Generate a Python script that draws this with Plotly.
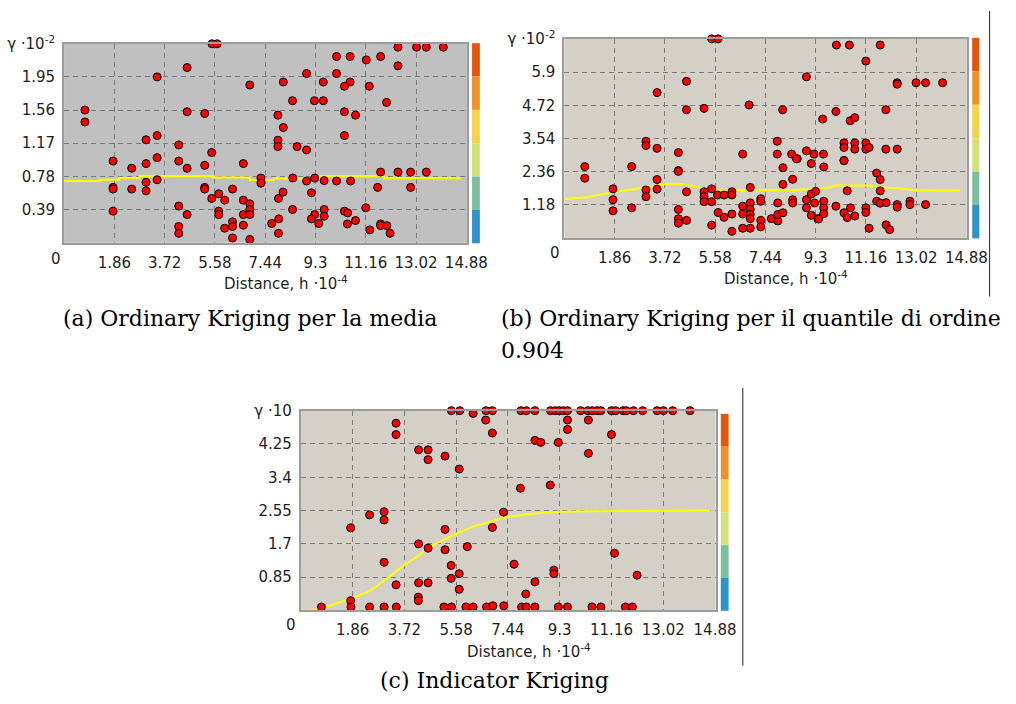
import plotly.graph_objects as go

# ---------------- data ----------------
tick_vals_x = [1.86, 3.72, 5.58, 7.44, 9.3, 11.16, 13.02, 14.88]
tick_text_x = ["1.86", "3.72", "5.58", "7.44", "9.3", "11.16", "13.02", "14.88"]

a_ticks = [0.39, 0.78, 1.17, 1.56, 1.95, 2.34]
a_ticktext = ["0.39", "0.78", "1.17", "1.56", "1.95", "γ ·10<sup>-2</sup>"]
b_ticks = [1.18, 2.36, 3.54, 4.72, 5.9, 7.08]
b_ticktext = ["1.18", "2.36", "3.54", "4.72", "5.9", "γ ·10<sup>-2</sup>"]
c_ticks = [0.85, 1.7, 2.55, 3.4, 4.25, 5.1]
c_ticktext = ["0.85", "1.7", "2.55", "3.4", "4.25", "γ ·10"]

# (a) Ordinary Kriging per la media
a_dist = [5.47, 5.66, 4.55, 3.44, 0.77, 0.77, 4.55, 5.20, 3.44, 3.03, 4.24, 1.81, 3.44, 4.24, 5.46,
          2.50, 3.03, 4.55, 5.20, 6.63, 3.44, 3.03, 3.03, 1.81, 1.81, 2.50, 5.20, 5.20,
          5.72, 5.46, 5.94, 6.23, 6.63, 1.81, 4.24, 4.55, 5.72, 5.72, 6.63,
          4.24, 4.24, 5.94, 6.23, 6.23, 6.63, 6.23,
          7.28, 7.28, 8.46, 8.97, 9.27, 9.62, 10.08, 10.60, 11.60,
          6.87, 6.87, 6.87, 6.87, 8.10, 7.93, 9.15, 8.45, 7.94, 7.68, 7.93,
          9.27, 9.15, 9.42, 9.62, 9.62, 10.37, 10.49, 10.78, 10.48,
          11.16, 11.31, 11.71, 11.71, 11.94, 12.06,
          12.35, 13.04, 13.40, 14.03, 10.08, 10.58, 11.18, 11.71, 12.35, 8.97, 10.08,
          6.87, 8.11, 9.59, 10.58, 10.37, 11.29, 8.45, 9.26, 9.59, 11.93, 10.37, 10.78, 7.91,
          8.11, 7.91, 7.91, 8.62, 8.97, 10.37, 11.71, 12.35, 12.82, 13.40, 12.82]
a_gamma = [2.34, 2.34, 2.06, 1.95, 1.56, 1.42, 1.54, 1.52, 1.26, 1.21, 1.15, 0.96, 1.00, 0.96, 1.06,
           0.875, 0.93, 0.875, 0.91, 0.93, 0.74, 0.71, 0.61, 0.65, 0.63, 0.63, 0.65, 0.63,
           0.575, 0.52, 0.50, 0.63, 0.50, 0.37, 0.43, 0.33, 0.37, 0.33, 0.33,
           0.19, 0.11, 0.17, 0.245, 0.19, 0.205, 0.055,
           0.76, 0.70, 0.76, 0.725, 0.76, 0.73, 0.725, 0.725, 0.65,
           0.456, 0.39, 0.33, 0.037, 0.595, 0.52, 0.586, 0.39, 0.28, 0.225, 0.11,
           0.33, 0.28, 0.225, 0.39, 0.31, 0.37, 0.35, 0.26, 0.22,
           0.41, 0.15, 0.22, 0.20, 0.20, 0.11,
           2.30, 2.30, 2.30, 2.30, 2.19, 2.19, 2.15, 2.19, 2.08, 1.99, 1.99,
           1.855, 1.89, 1.89, 1.89, 1.84, 1.84, 1.67, 1.67, 1.67, 1.65, 1.54, 1.50, 1.50,
           1.355, 1.205, 1.13, 1.13, 1.09, 1.26, 0.83, 0.83, 0.83, 0.83, 0.65]
a_model_h = [0, 1.32, 2.04, 2.79, 5.51, 6.87, 7.75, 9.47, 11.83, 14.67]
a_model_g = [0.725, 0.74, 0.76, 0.78, 0.765, 0.736, 0.755, 0.78, 0.757, 0.757]

# (b) Ordinary Kriging per il quantile di ordine 0.904
b_dist = [5.45, 5.69, 4.52, 3.43, 4.52, 5.17, 3.02, 3.02, 3.43, 4.22, 4.22, 4.22,
          0.755, 0.755, 2.49, 3.43, 1.80, 3.02, 3.43, 4.52,
          5.17, 5.17, 5.17, 5.45, 5.45, 5.67, 5.91, 6.20, 6.20,
          3.02, 1.80, 1.80, 2.49, 4.22, 4.22, 4.22, 4.52,
          5.69, 5.91, 6.20, 5.45, 6.20, 6.60, 6.60, 6.60, 6.60,
          6.88, 6.88, 6.88, 6.88, 6.88, 6.88, 7.27, 7.27, 7.27, 7.27,
          7.66, 7.90, 7.90, 7.90, 8.09, 8.09, 8.45, 8.45, 8.45, 8.09,
          8.62, 9.14, 9.60, 10.35, 8.96, 8.96, 9.14, 9.30, 9.26, 9.14, 9.38,
          9.60, 9.60, 9.60, 10.05, 10.35, 10.47, 10.59, 10.75, 10.47,
          10.07, 10.55, 11.69, 11.16, 8.96, 12.32, 12.32, 13.02, 13.37, 14.00,
          6.84, 8.08, 9.56, 10.05, 10.58, 10.75, 11.90,
          7.88, 7.88, 8.41, 8.59, 8.96, 9.24, 9.59,
          10.35, 10.35, 10.35, 10.75, 10.75, 11.16, 11.16, 11.28, 11.90, 12.32,
          11.56, 11.69, 11.69, 11.56, 11.69, 11.91, 12.32, 12.32, 12.79, 12.79, 13.37,
          11.91, 12.04, 11.28, 11.16, 11.16, 9.41]
b_gamma = [7.08, 7.08, 5.57, 5.17, 4.56, 4.61, 3.44, 3.29, 3.19, 3.04, 2.40, 2.37,
           2.54, 2.13, 2.54, 2.08, 1.75, 1.71, 1.74, 1.645,
           1.645, 1.47, 1.295, 1.75, 1.295, 1.53, 1.53, 1.645, 1.53,
           1.47, 1.365, 0.97, 1.075, 1.02, 0.69, 0.53, 0.63,
           0.91, 0.74, 0.855, 0.46, 0.24, 2.985, 1.135, 0.855, 0.35,
           1.80, 1.25, 1.02, 0.84, 0.69, 0.35, 1.40, 1.31, 0.63, 0.40,
           0.69, 0.61, 0.84, 1.25, 1.91, 2.50, 2.09, 1.365, 1.25, 0.90,
           2.82, 2.65, 2.53, 2.76, 1.365, 1.075, 1.565, 1.66, 1.25, 0.81, 0.69,
           1.31, 1.075, 0.865, 1.135, 0.90, 0.73, 1.075, 0.785, 1.68,
           6.86, 6.86, 6.86, 6.29, 5.73, 5.52, 5.47, 5.52, 5.52, 5.52,
           4.73, 4.56, 4.23, 4.50, 4.17, 4.28, 4.56,
           3.44, 2.985, 2.985, 2.82, 3.10, 2.985, 2.985,
           3.38, 3.22, 2.75, 3.38, 3.16, 3.38, 3.16, 3.22, 3.16, 3.16,
           2.31, 2.08, 1.68, 1.31, 1.24, 1.26, 1.19, 1.10, 1.31, 1.19, 1.19,
           0.47, 0.30, 0.35, 1.075, 0.91, 0.68]
b_model_h = [0, 0.85, 1.82, 2.91, 3.76, 4.36, 4.72, 5.45, 8.40, 9.20, 9.80, 10.05, 11.28, 11.90, 12.60, 13.00, 14.64]
b_model_g = [1.39, 1.45, 1.64, 1.78, 1.92, 1.92, 1.85, 1.69, 1.70, 1.76, 1.80, 1.87, 1.87, 1.80, 1.75, 1.69, 1.69]

# (c) Indicator Kriging
c_dist = [5.41, 5.71, 6.65, 6.88, 7.91, 8.10, 8.41, 8.97, 9.14, 9.28, 9.43, 9.58, 10.05, 10.31,
          10.47, 10.64, 10.78, 11.16, 11.31, 11.58, 11.69, 11.95, 12.28, 12.80, 13.03, 13.36, 13.98,
          6.19, 6.64, 6.88, 3.42, 3.42, 4.23, 4.57, 4.57, 5.18, 5.69,
          8.41, 8.62, 9.25, 9.58, 9.58, 10.33, 11.16, 10.33,
          7.89, 8.96, 7.28, 6.88, 1.79, 2.47, 2.99, 2.99, 5.18, 2.99, 3.42,
          4.23, 4.57, 5.18, 5.98, 5.40, 5.40, 5.69, 5.69, 4.23, 4.57, 4.22, 4.22, 1.79,
          11.27, 7.66, 9.09, 9.09, 12.08, 8.41, 8.08,
          0.74, 1.80, 2.47, 2.99, 3.43, 5.14, 5.41, 5.93, 6.19, 6.67, 6.90, 7.29, 7.93,
          8.10, 8.41, 9.25, 9.58, 10.46, 10.78, 11.66, 11.91]
c_gamma = [5.1] * 27 + [
          5.03, 4.86, 4.53, 4.78, 4.49, 4.10, 4.10, 3.85, 3.94, 3.61,
          4.34, 4.29, 4.29, 4.86, 4.62, 4.86, 4.49, 4.01,
          3.12, 3.20, 2.51, 2.12, 2.11, 2.44, 2.52, 2.31, 2.07, 1.23, 0.655,
          1.70, 1.59, 1.55, 1.63, 1.15, 0.82, 0.94, 0.54, 0.705, 0.705, 0.34, 0.25, 0.25,
          1.46, 1.18, 1.03, 0.94, 0.90, 0.73, 0.42,
          0.09, 0.09, 0.09, 0.09, 0.09, 0.09, 0.09, 0.09, 0.09, 0.09, 0.12, 0.12, 0.09,
          0.09, 0.09, 0.09, 0.09, 0.09, 0.09, 0.09, 0.09]
c_model_h = [0, 0.74, 1.79, 2.47, 2.99, 3.74, 4.23, 4.57, 5.18, 5.69, 6.19, 6.79, 7.28, 7.89, 8.90, 10.31, 14.71]
c_model_g = [0, 0.06, 0.31, 0.50, 0.76, 1.17, 1.40, 1.60, 1.82, 1.99, 2.14, 2.26, 2.37, 2.43, 2.51, 2.53, 2.55]

band_colors = ["#E4550E", "#EE922C", "#F5D350", "#D1E27D", "#7CBE9F", "#2D93C8"]

captions = ["(a) Ordinary Kriging per la media",
            "(b) Ordinary Kriging per il quantile di ordine",
            "0.904",
            "(c) Indicator Kriging"]
x_title = "Distance, h ·10<sup>-4</sup>"

# ---------------- layout helpers ----------------
W, H = 1016, 704


def fx(p):
    return p / W


def fy(p):
    return 1 - p / H


TICKFONT = dict(family="DejaVu Sans", size=15, color="#1e1e1e")
axis_common = dict(showgrid=True, gridcolor="#7c7c7c", griddash="5px,4px", gridwidth=1,
                   showline=True, mirror=True, linecolor="#9c9c9c", linewidth=2,
                   zeroline=False, ticks="", tickfont=TICKFONT, fixedrange=True)

panels = [
    dict(x=a_dist, y=a_gamma, mh=a_model_h, mg=a_model_g, shape="hv",
         xdom=(65.5, 476.7), ydom=(235.3, 33.3), yr=[0, 2.34], yt=a_ticks, ytt=a_ticktext,
         bar=(482, 490, 32.7, 236), zero=(56.7, 251.7), title=(226.7, 276.7)),
    dict(x=b_dist, y=b_gamma, mh=b_model_h, mg=b_model_g, shape="linear",
         xdom=(576.3, 987.3), ydom=(230.7, 28.3), yr=[0, 7.08], yt=b_ticks, ytt=b_ticktext,
         bar=(992.7, 1000, 27.3, 231), zero=(566.7, 245.7), title=(737.3, 271.7)),
    dict(x=c_dist, y=c_gamma, mh=c_model_h, mg=c_model_g, shape="spline",
         xdom=(307.2, 730.7), ydom=(609, 406), yr=[0, 5.1], yt=c_ticks, ytt=c_ticktext,
         bar=(736, 744, 409.3, 609.3), zero=(297.3, 623.3), title=(474.6, 650)),
]

fig = go.Figure()
layout = dict(width=W, height=H, margin=dict(l=0, r=0, t=0, b=0),
              paper_bgcolor="white", plot_bgcolor="#D4D0C8", showlegend=False)
shapes = []
annotations = []

for i, p in enumerate(panels):
    sfx = "" if i == 0 else str(i + 1)
    xa, ya = "x" + sfx, "y" + sfx
    fig.add_trace(go.Scatter(x=p["mh"], y=p["mg"], mode="lines", xaxis=xa, yaxis=ya,
                             line=dict(color="#FFFF00", width=2, shape=p["shape"]),
                             hoverinfo="skip"))
    fig.add_trace(go.Scatter(x=p["x"], y=p["y"], mode="markers", xaxis=xa, yaxis=ya,
                             cliponaxis=False,
                             marker=dict(color="#FF0000", size=8,
                                         line=dict(color="#000000", width=1))))
    layout["xaxis" + sfx] = dict(axis_common, domain=[fx(p["xdom"][0]), fx(p["xdom"][1])],
                                 range=[0, 14.9], anchor=ya, tickvals=tick_vals_x,
                                 ticktext=tick_text_x, ticklabelstandoff=5)
    layout["yaxis" + sfx] = dict(axis_common, domain=[fy(p["ydom"][0]), fy(p["ydom"][1])],
                                 range=p["yr"], anchor=xa, tickvals=p["yt"],
                                 ticktext=p["ytt"], ticklabelstandoff=4)
    # colour bar bands
    x0, x1, y0, y1 = p["bar"]
    step = (y1 - y0) / len(band_colors)
    for k, col in enumerate(band_colors):
        shapes.append(dict(type="rect", xref="paper", yref="paper", x0=fx(x0), x1=fx(x1),
                           y0=fy(y0 + (k + 1) * step), y1=fy(y0 + k * step),
                           fillcolor=col, line=dict(width=0)))
    annotations.append(dict(text="0", xref="paper", yref="paper", x=fx(p["zero"][0]),
                            y=fy(p["zero"][1]), xanchor="center", yanchor="middle",
                            showarrow=False, font=TICKFONT))
    annotations.append(dict(text=x_title, xref="paper", yref="paper", x=fx(p["title"][0]),
                            y=fy(p["title"][1]), xanchor="left", yanchor="middle",
                            showarrow=False, font=TICKFONT))

# panel (a) has a plain grey background
shapes.append(dict(type="rect", xref="x domain", yref="y domain", x0=0, x1=1, y0=0, y1=1,
                   fillcolor="#C0C0C0", line=dict(width=0), layer="below"))
# sub-figure separators
shapes.append(dict(type="line", xref="paper", yref="paper", x0=fx(1010.5), x1=fx(1010.5),
                   y0=fy(0), y1=fy(290), line=dict(color="#222222", width=1)))
shapes.append(dict(type="line", xref="paper", yref="paper", x0=fx(758.5), x1=fx(758.5),
                   y0=fy(383), y1=fy(665), line=dict(color="#222222", width=1)))

CAPFONT = dict(family="DejaVu Serif", size=22, color="#000000")
cap_pos = [(62, 312, "left"), (510, 312, "left"), (510, 345, "left"), (505, 680, "center")]
for txt, (cx, cy, anc) in zip(captions, cap_pos):
    annotations.append(dict(text=txt, xref="paper", yref="paper", x=fx(cx), y=fy(cy),
                            xanchor=anc, yanchor="middle", showarrow=False, font=CAPFONT))

layout["shapes"] = shapes
layout["annotations"] = annotations
fig.update_layout(**layout)
fig.write_html("out.html")
